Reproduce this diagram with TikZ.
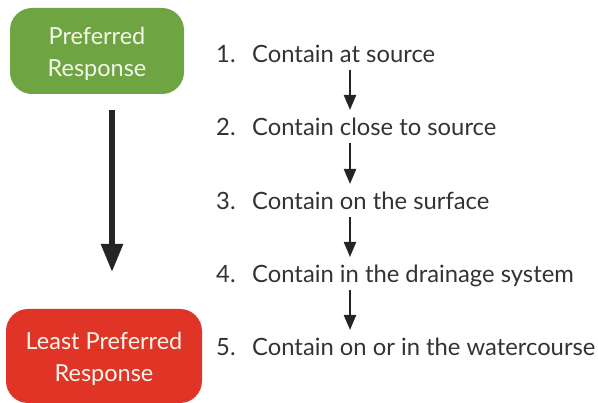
\documentclass[tikz,border=0pt]{standalone}
\usepackage{fontspec}
\setmainfont{Lato}
\usetikzlibrary{arrows.meta,positioning}
\definecolor{FillPref}{RGB}{111,164,67}
\definecolor{FillLeast}{RGB}{224,52,38}
\definecolor{TextBox}{RGB}{246,246,236}
\definecolor{TextItem}{RGB}{51,51,51}

\begin{document}
\begin{tikzpicture}[
    x=1pt, y=-1pt,
    level/.style={rounded corners=22pt, text=TextBox, align=center, inner sep=0pt, font=\fontsize{23.5}{32}\selectfont},
    num/.style={anchor=west, inner sep=0pt, text height=19pt, text depth=3pt, text=TextItem, font=\fontsize{23.8}{28}\selectfont},
    item/.style={num},
    arr/.style={-{Triangle[width=12pt,length=15pt]}, line width=2.2pt, draw=TextItem!70!black},
    bigarr/.style={-{Triangle[width=21pt,length=28pt]}, line width=5.5pt, draw=TextItem!70!black}
]
\useasboundingbox (0,0) rectangle (598,403);

%% ---- LEVEL BOXES (left) ----
\node[level, fill=FillPref,  minimum width=174pt, minimum height=86pt] (pref)  at (97,51)   {\rule{0pt}{24pt}Preferred\\Response};
\node[level, fill=FillLeast, minimum width=196pt, minimum height=94pt] (least) at (104,356) {\rule{0pt}{24pt}Least Preferred\\Response};

%% ---- RANKED LIST (right) ----
\node[num]  (n1) at (216,55)  {1.};
\node[num]  (n2) at (216,128) {2.};
\node[num]  (n3) at (216,202) {3.};
\node[num]  (n4) at (216,275) {4.};
\node[num]  (n5) at (216,348) {5.};
\node[item] (t1) at (252,55)  {Contain at source};
\node[item] (t2) at (252,128) {Contain close to source};
\node[item] (t3) at (252,202) {Contain on the surface};
\node[item] (t4) at (252,275) {Contain in the drainage system};
\node[item] (t5) at (252,348) {Contain on or in the watercourse};

%% ---- ARROWS ----
\coordinate (spine) at (350,0);
\coordinate (bigtop) at (112,110);
\coordinate (bigbot) at (112,272);
\draw[bigarr] (bigtop) -- (bigbot);
\foreach \a/\b in {t1/t2, t2/t3, t3/t4, t4/t5}
  \draw[arr, shorten <=15pt, shorten >=18pt] (\a.west -| spine) -- (\b.west -| spine);

\end{tikzpicture}
\end{document}
